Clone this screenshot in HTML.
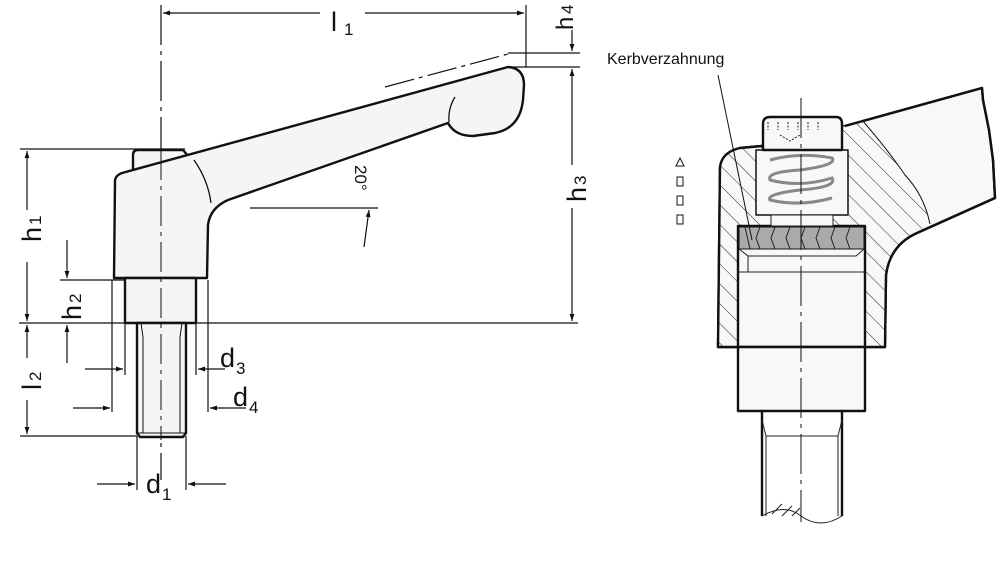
<!DOCTYPE html>
<html><head><meta charset="utf-8"><style>
html,body{margin:0;padding:0;background:#fff;}
svg{display:block;}
text{font-family:"Liberation Sans",sans-serif;fill:#111;}
</style></head><body>
<svg width="1000" height="568" viewBox="0 0 1000 568" xmlns="http://www.w3.org/2000/svg">
<defs>
<marker id="a" viewBox="0 0 10 10" refX="10" refY="5" markerWidth="10" markerHeight="7" markerUnits="userSpaceOnUse" orient="auto"><path d="M0,1.5 L10,5 L0,8.5z" fill="#111"/></marker>
<pattern id="h" width="14" height="14" patternUnits="userSpaceOnUse" patternTransform="rotate(-45)"><rect width="14" height="14" fill="#f8f8f8"/><line x1="0" y1="0" x2="0" y2="14" stroke="#222" stroke-width="1"/></pattern>
</defs>
<g stroke="#111" fill="none" stroke-width="1.2">
<line x1="161" y1="5" x2="161" y2="480" stroke-dasharray="40,6,4,6" />
<line x1="526" y1="5" x2="526" y2="67"/>
<line x1="320" y1="13" x2="163" y2="13" marker-end="url(#a)"/>
<line x1="365" y1="13" x2="524" y2="13" marker-end="url(#a)"/>
<line x1="508" y1="53" x2="580" y2="53"/>
<line x1="508" y1="67" x2="580" y2="67"/>
<line x1="572" y1="30" x2="572" y2="51" marker-end="url(#a)"/>
<line x1="572" y1="165" x2="572" y2="69" marker-end="url(#a)"/>
<line x1="572" y1="208" x2="572" y2="321" marker-end="url(#a)"/>
<line x1="19" y1="323" x2="578" y2="323"/>
<line x1="20" y1="149" x2="185" y2="149"/>
<line x1="27" y1="210" x2="27" y2="151" marker-end="url(#a)"/>
<line x1="27" y1="262" x2="27" y2="321" marker-end="url(#a)"/>
<line x1="60" y1="280" x2="125" y2="280"/>
<line x1="67" y1="240" x2="67" y2="278" marker-end="url(#a)"/>
<line x1="67" y1="363" x2="67" y2="325" marker-end="url(#a)"/>
<line x1="20" y1="436" x2="137" y2="436"/>
<line x1="27" y1="358" x2="27" y2="325" marker-end="url(#a)"/>
<line x1="27" y1="400" x2="27" y2="434" marker-end="url(#a)"/>
<line x1="112" y1="280" x2="112" y2="412"/>
<line x1="208" y1="280" x2="208" y2="412"/>
<line x1="125" y1="323" x2="125" y2="375"/>
<line x1="196" y1="323" x2="196" y2="375"/>
<line x1="85" y1="369" x2="123" y2="369" marker-end="url(#a)"/>
<line x1="225" y1="369" x2="198" y2="369" marker-end="url(#a)"/>
<line x1="73" y1="408" x2="110" y2="408" marker-end="url(#a)"/>
<line x1="246" y1="408" x2="210" y2="408" marker-end="url(#a)"/>
<line x1="137" y1="436" x2="137" y2="490"/>
<line x1="186" y1="436" x2="186" y2="490"/>
<line x1="97" y1="484" x2="135" y2="484" marker-end="url(#a)"/>
<line x1="226" y1="484" x2="188" y2="484" marker-end="url(#a)"/>
<line x1="250" y1="208" x2="378" y2="208"/>
<path d="M341,121 L358,154" marker-end="url(#a)"/>
<path d="M364,247 L369,210" marker-end="url(#a)"/>
<line x1="385" y1="87" x2="508" y2="54" stroke-dasharray="30,5,4,5"/>
</g>
<g stroke="#111" stroke-width="2.4" fill="#f5f5f5" stroke-linejoin="round">
<path d="M133,172 L133,155 Q133,150 138,150 L183,150 L189,157 Z"/>
<path d="M114,278 L115,180 Q116,175 122,173 L508,67 Q524,68 524,85 L523,100 Q520,128 495,133 L473,136 Q455,136 448,123 L228,200 Q210,208 208,225 L207,278 Z"/>
<rect x="125" y="278" width="71" height="45"/>
<path d="M137,323 L137,433 L140,437 L183,437 L186,433 L186,323 Z"/>
</g>
<g stroke="#111" stroke-width="1" fill="none">
<path d="M141,323 L143,337 L143,433 M182,323 L180,337 L180,433 M137,433 L186,433"/>
<path d="M194,160 Q208,180 211,203" stroke-width="1.3"/>
<path d="M455,97 Q448,108 449,122" stroke-width="1.3"/>
</g>
<line x1="161" y1="150" x2="161" y2="440" stroke="#111" stroke-width="1" stroke-dasharray="30,6,4,6"/>
<text x="331" y="31" font-size="27">l</text><text x="344" y="35" font-size="17">1</text>
<text transform="translate(41,242) rotate(-90)" font-size="27">h</text><text transform="translate(41,225) rotate(-90)" font-size="17">1</text>
<text transform="translate(81,320) rotate(-90)" font-size="27">h</text><text transform="translate(81,303) rotate(-90)" font-size="17">2</text>
<text transform="translate(41,390) rotate(-90)" font-size="27">l</text><text transform="translate(41,381) rotate(-90)" font-size="17">2</text>
<text transform="translate(586,202) rotate(-90)" font-size="27">h</text><text transform="translate(586,185) rotate(-90)" font-size="17">3</text>
<text transform="translate(573,30) rotate(-90)" font-size="24">h</text><text transform="translate(573,14) rotate(-90)" font-size="17">4</text>
<text transform="translate(355,165) rotate(90)" font-size="17">20°</text>
<text x="220" y="367" font-size="27">d</text><text x="236" y="374" font-size="17">3</text>
<text x="233" y="406" font-size="27">d</text><text x="249" y="413" font-size="17">4</text>
<text x="146" y="493" font-size="27">d</text><text x="162" y="500" font-size="17">1</text>
<text x="607" y="64" font-size="16">Kerbverzahnung</text>
<!-- right view -->
<g stroke="#111" stroke-width="2.4" fill="#f8f8f8" stroke-linejoin="round">
<path d="M845,126 L982,88 L983,100 L989,130 L993,160 L995,198 L917,233 Q890,245 886,275 L885,347 L718,347 L720,167 Q722,152 740,148 L762,146 Z"/>
</g>
<path d="M762,147 L740,148 Q722,152 720,167 L719,346 L884,346 L885,275 Q889,245 916,232 L930,224 Q924,195 905,175 Q888,150 862,120 L846,126 Z" fill="url(#h)" stroke="none"/>
<path d="M862,120 Q888,150 905,175 Q924,195 930,224" fill="none" stroke="#111" stroke-width="1"/>
<g stroke="#111" stroke-width="2.4" fill="#f8f8f8" stroke-linejoin="round">
<path d="M845,126 L982,88 L983,100 L989,130 L993,160 L995,198 L917,233 Q890,245 886,275 L885,347 L718,347 L720,167 Q722,152 740,148 L762,146" fill="none"/>
<rect x="756" y="150" width="92" height="65" stroke-width="1.5"/>
<path d="M763,150 L763,124 Q763,117 770,117 L836,117 Q842,117 842,124 L842,150 Z"/>
<rect x="738" y="226" width="127" height="121"/>
<rect x="738" y="347" width="127" height="64"/>
<path d="M762,411 L762,516 M842,411 L842,516" fill="none"/>
</g>
<rect x="739" y="227" width="125" height="22" fill="#aaa" stroke="#111" stroke-width="1"/>
<g stroke="#222" stroke-width="1" fill="none">
<path d="M745,227 l5,22 M760,227 l-4,11 l4,11 M775,227 l-4,11 l4,11 M790,227 l-4,11 l4,11 M805,227 l-4,11 l4,11 M820,227 l-4,11 l4,11 M835,227 l-4,11 l4,11 M850,227 l-4,11 l4,11"/>
<path d="M739,249 L748,256 L856,256 L864,249 M748,256 L748,272 M738,272 L865,272"/>
<rect x="771" y="215" width="62" height="11" fill="#f8f8f8"/>
<path d="M762,420 L766,436 L766,516 M842,420 L838,436 L838,516 M766,436 L838,436"/>
<path d="M762,516 Q785,503 801,516 Q820,530 842,516"/>
<path d="M772,514 l10,-10 M782,516 l10,-10 M792,516 l8,-8" />
<path d="M768,122 l0,8 M778,122 l0,8 M788,122 l0,8 M798,122 l0,8 M808,122 l0,8 M818,122 l0,8 M780,135 l10,6 l10,-6" stroke-dasharray="2,1.5"/>
</g>
<g stroke="#888" stroke-width="3" fill="none">
<path d="M770,160 Q800,152 832,158 Q838,165 800,170 Q766,172 770,180 Q800,188 832,178 Q838,187 800,190 Q766,194 770,200 Q800,207 832,198"/>
</g>
<line x1="718" y1="75" x2="752" y2="240" stroke="#111" stroke-width="1"/>
<line x1="801" y1="98" x2="801" y2="522" stroke="#111" stroke-width="1" stroke-dasharray="40,6,4,6"/>
<g stroke="#111" stroke-width="1" fill="none">
<path d="M676,166 L680,158 L684,166 Z"/>
<rect x="677" y="177" width="6" height="9"/><rect x="677" y="196" width="6" height="9"/><rect x="677" y="215" width="6" height="9"/>
</g>
</svg>
</body></html>
